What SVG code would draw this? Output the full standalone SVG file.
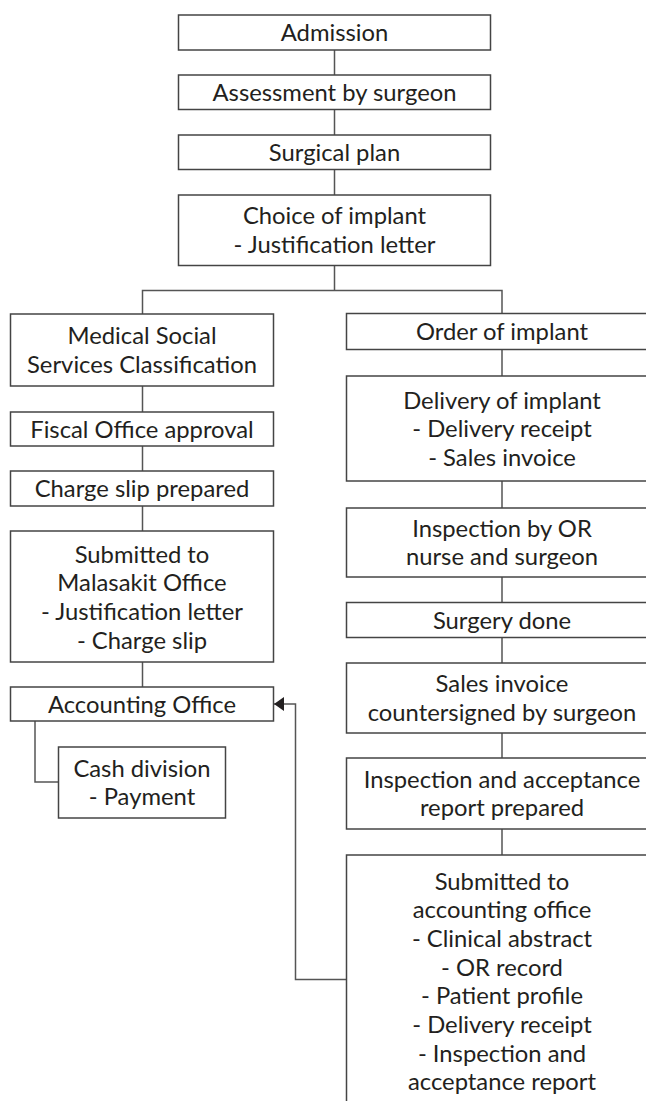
<svg xmlns="http://www.w3.org/2000/svg" width="646" height="1101" viewBox="0 0 646 1101">
<defs>
<style>
.b{fill:#fff;stroke:#444;stroke-width:1.5}
.t{font-family:Lato,"Open Sans","Liberation Sans",sans-serif;font-size:23.8px;fill:#231f20;text-anchor:middle}
.c{fill:none;stroke:#555;stroke-width:1.5}
</style>
<marker id="ah" viewBox="0 0 10 14" refX="10" refY="7" markerWidth="10" markerHeight="14" markerUnits="userSpaceOnUse" orient="auto">
<path d="M0,0 L10,7 L0,14 Z" fill="#231f20"/>
</marker>
</defs>
<rect width="646" height="1101" fill="#fff"/>
<g id="connectors">
<path class="c" d="M334.5,50 V75 M334.5,109.5 V135 M334.5,169.5 V195 M334.5,265.5 V290.5"/>
<path class="c" d="M142.5,314 V290.5 H502 V313.5"/>
<path class="c" d="M142.5,386 V412 M142.5,446 V471 M142.5,506 V531 M142.5,662 V687"/>
<path class="c" d="M35,721 V782 H58.5"/>
<path class="c" d="M502,349.5 V376 M502,481 V508 M502,577 V602.5 M502,637.5 V663 M502,733 V758 M502,829 V855"/>
<path class="c" d="M346.5,979.5 H295.5 V704 H274" marker-end="url(#ah)"/>
</g>
<g id="admission"><rect class="b" x="178.5" y="15" width="312" height="35"/><text class="t" x="334.5" y="41">Admission</text></g>
<g id="assessment"><rect class="b" x="178.5" y="75" width="312" height="34.5"/><text class="t" x="334.5" y="100.5">Assessment by surgeon</text></g>
<g id="surgical-plan"><rect class="b" x="178.5" y="135" width="312" height="34.5"/><text class="t" x="334.5" y="160.5">Surgical plan</text></g>
<g id="choice"><rect class="b" x="178.5" y="195" width="312" height="70.5"/><text class="t" x="334.5" y="224"><tspan x="334.5">Choice of implant</tspan><tspan x="334.5" dy="28.7">- Justification letter</tspan></text></g>
<g id="mss"><rect class="b" x="10.5" y="314" width="263" height="72"/><text class="t" x="142" y="344"><tspan x="142">Medical Social</tspan><tspan x="142" dy="28.7">Services Classification</tspan></text></g>
<g id="fiscal"><rect class="b" x="10.5" y="412" width="263" height="34"/><text class="t" x="142" y="437.5">Fiscal Office approval</text></g>
<g id="charge-slip"><rect class="b" x="10.5" y="471" width="263" height="35"/><text class="t" x="142" y="497">Charge slip prepared</text></g>
<g id="malasakit"><rect class="b" x="10.5" y="531" width="263" height="131"/><text class="t" x="142" y="562.5"><tspan x="142">Submitted to</tspan><tspan x="142" dy="28.7">Malasakit Office</tspan><tspan x="142" dy="28.7">- Justification letter</tspan><tspan x="142" dy="28.7">- Charge slip</tspan></text></g>
<g id="accounting"><rect class="b" x="10.5" y="687" width="263" height="34"/><text class="t" x="142" y="712.5">Accounting Office</text></g>
<g id="cash"><rect class="b" x="58.5" y="747" width="167" height="71"/><text class="t" x="142" y="776.5"><tspan x="142">Cash division</tspan><tspan x="142" dy="28.7">- Payment</tspan></text></g>
<g id="order"><rect class="b" x="346.5" y="313.5" width="311" height="36"/><text class="t" x="502" y="340">Order of implant</text></g>
<g id="delivery"><rect class="b" x="346.5" y="376" width="311" height="105"/><text class="t" x="502" y="408.5"><tspan x="502">Delivery of implant</tspan><tspan x="502" dy="28.7">- Delivery receipt</tspan><tspan x="502" dy="28.7">- Sales invoice</tspan></text></g>
<g id="inspection-or"><rect class="b" x="346.5" y="508" width="311" height="69"/><text class="t" x="502" y="536.5"><tspan x="502">Inspection by OR</tspan><tspan x="502" dy="28.7">nurse and surgeon</tspan></text></g>
<g id="surgery"><rect class="b" x="346.5" y="602.5" width="311" height="35"/><text class="t" x="502" y="628.5">Surgery done</text></g>
<g id="sales-invoice"><rect class="b" x="346.5" y="663" width="311" height="70"/><text class="t" x="502" y="692"><tspan x="502">Sales invoice</tspan><tspan x="502" dy="28.7">countersigned by surgeon</tspan></text></g>
<g id="iar"><rect class="b" x="346.5" y="758" width="311" height="71"/><text class="t" x="502" y="787.5"><tspan x="502">Inspection and acceptance</tspan><tspan x="502" dy="28.7">report prepared</tspan></text></g>
<g id="submitted-accounting"><rect class="b" x="346.5" y="855" width="311" height="270"/><text class="t" x="502" y="889.5"><tspan x="502">Submitted to</tspan><tspan x="502" dy="28.7">accounting office</tspan><tspan x="502" dy="28.7">- Clinical abstract</tspan><tspan x="502" dy="28.7">- OR record</tspan><tspan x="502" dy="28.7">- Patient profile</tspan><tspan x="502" dy="28.7">- Delivery receipt</tspan><tspan x="502" dy="28.7">- Inspection and</tspan><tspan x="502" dy="28.7">acceptance report</tspan></text></g>
</svg>
